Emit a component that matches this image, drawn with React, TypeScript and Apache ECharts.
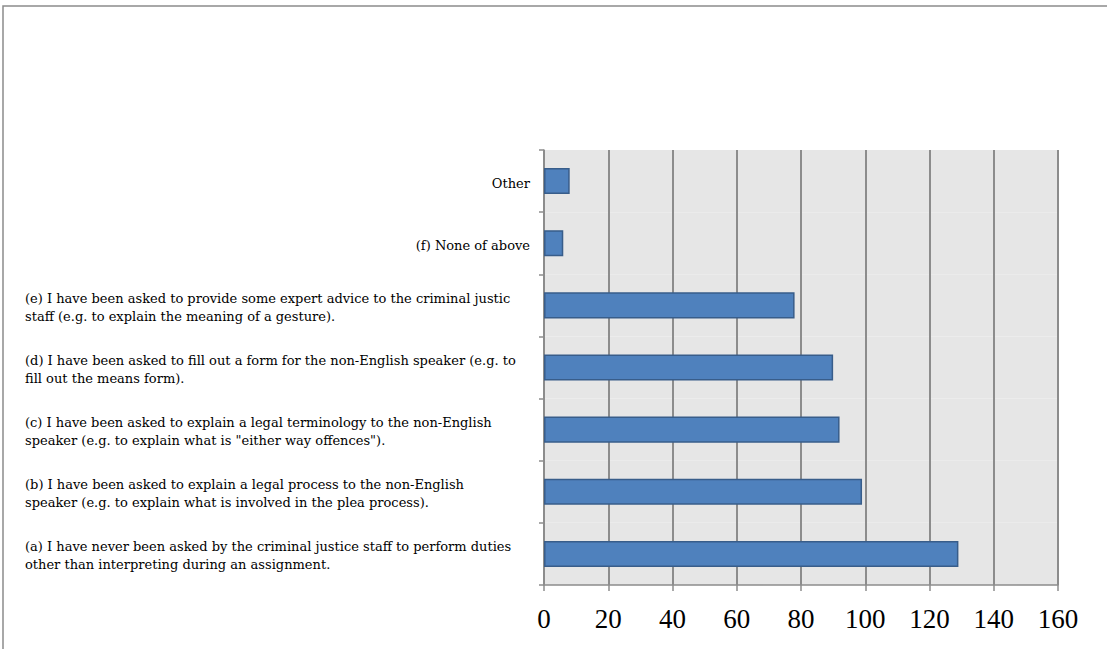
import React, { useEffect, useRef } from "react";
import * as echarts from "echarts";

const categories = [
  ["(a) I have never been asked by the criminal justice staff to perform duties", "other than interpreting during an assignment."],
  ["(b) I have been asked to explain a legal process to the non-English", "speaker (e.g. to explain what is involved in the plea process)."],
  ["(c) I have been asked to explain a legal terminology to the non-English", "speaker (e.g. to explain what is \"either way offences\")."],
  ["(d) I have been asked to fill out a form for the non-English speaker (e.g. to", "fill out the means form)."],
  ["(e) I have been asked to provide some expert advice to the criminal justic", "staff (e.g. to explain the meaning of a gesture)."],
  ["(f) None of above"],
  ["Other"],
];
const values = [129, 99, 92, 90, 78, 6, 8];
const xTicks = { min: 0, max: 160, interval: 20 };

export default function App() {
  const ref = useRef<HTMLDivElement>(null);
  useEffect(() => {
    const chart = echarts.init(ref.current!, null, { renderer: "svg" });
    const catNames = categories.map((c) => c.join("\n"));
    const font = "DejaVu Serif";
    chart.setOption({
      animation: false,
      backgroundColor: "#ffffff",
      grid: { left: 544, right: 49, top: 150, bottom: 64 },
      graphic: [
        {
          type: "rect",
          shape: { x: 3, y: 6, width: 1200, height: 700 },
          style: { fill: "none", stroke: "#8c8c8c", lineWidth: 1.5 },
          silent: true,
          z: -10,
        },
      ],
      xAxis: {
        type: "value",
        min: xTicks.min,
        max: xTicks.max,
        interval: xTicks.interval,
        axisLine: { show: true, lineStyle: { color: "#8c8c8c", width: 1.5 } },
        axisTick: { show: true, length: 6, lineStyle: { color: "#8c8c8c", width: 1.5 } },
        axisLabel: { color: "#000", fontFamily: "Liberation Serif", fontSize: 27, margin: 20 },
        splitLine: { show: true, lineStyle: { color: "#8c8c8c", width: 2 } },
      },
      yAxis: {
        type: "category",
        data: catNames,
        axisLine: { show: true, lineStyle: { color: "#8c8c8c", width: 1.5 } },
        axisTick: { show: true, length: 5, lineStyle: { color: "#8c8c8c", width: 1.5 } },
        splitArea: { show: true, areaStyle: { color: ["#e6e6e6", "#e6e6e6"] } },
        axisLabel: {
          margin: 14,
          align: "right",
          padding: [4, 0, 0, 0],
          formatter: (v: string) => {
            const lines = v.split("\n");
            if (lines.length === 1) return `{r|${lines[0]}}`;
            return lines.map((l) => `{l|${l}}`).join("\n");
          },
          rich: {
            r: { fontFamily: font, fontSize: 13, color: "#000", lineHeight: 18 },
            l: { fontFamily: font, fontSize: 13, color: "#000", lineHeight: 18, width: 505, align: "left" },
          },
        },
      },
      series: [
        {
          type: "bar",
          data: values,
          barCategoryGap: "58%",
          itemStyle: { color: "#4f81bd", borderColor: "#385d8a", borderWidth: 1.5 },
        },
      ],
    });
    return () => chart.dispose();
  }, []);
  return (
    <div
      ref={ref}
      style={{ position: "fixed", left: 0, top: 0, width: 1107, height: 649 }}
    />
  );
}
